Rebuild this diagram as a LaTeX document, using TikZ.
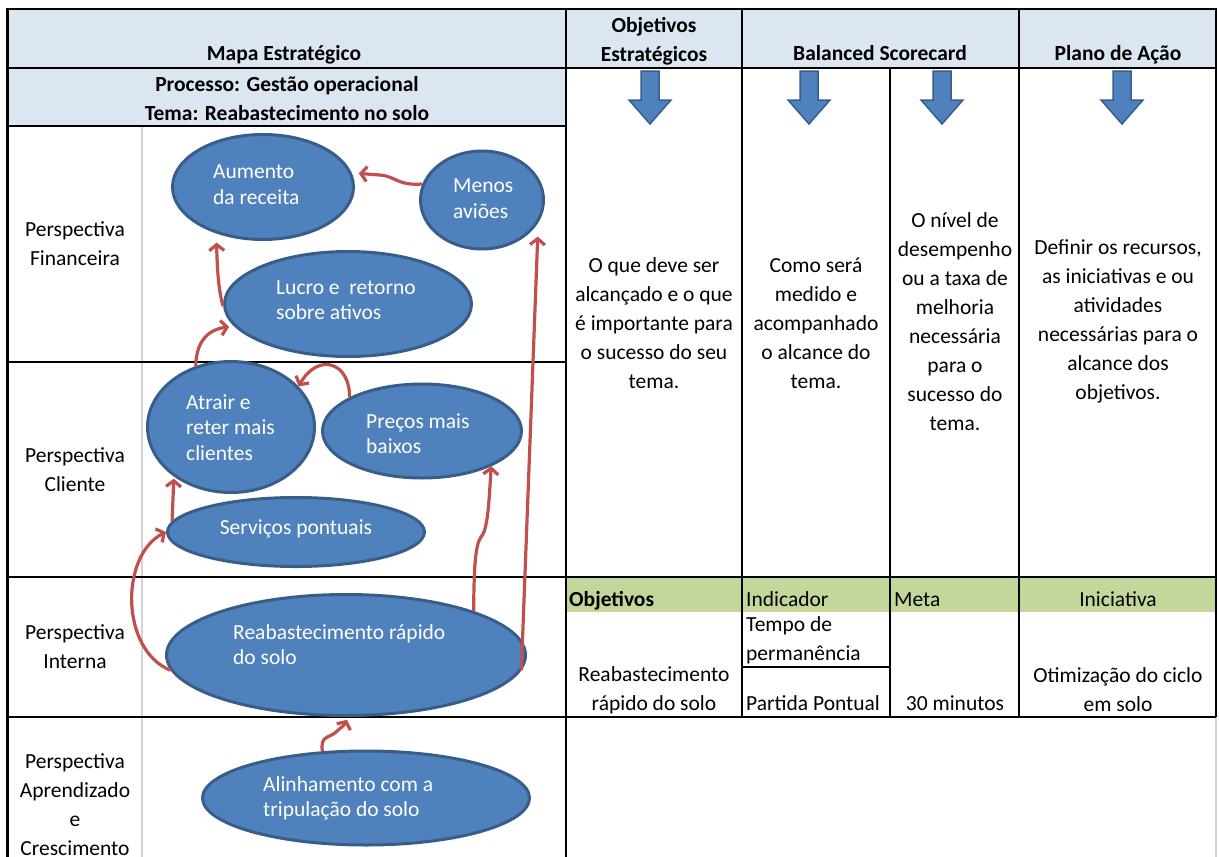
\documentclass[tikz,border=0pt]{standalone}
\usepackage{fontspec}
\setmainfont{Carlito}
\usetikzlibrary{arrows.meta,shapes.geometric}

\definecolor{hdr}{HTML}{DCE6F1}
\definecolor{grn}{HTML}{C4D79B}
\definecolor{ellfill}{HTML}{4F81BD}
\definecolor{elldraw}{HTML}{385D8A}
\definecolor{redar}{HTML}{C0504D}
\definecolor{gridgrey}{HTML}{D4D4D4}

\newcommand\fsz{\fontsize{21.5}{29}\selectfont}
\newcommand\fse{\fontsize{21.5}{25.5}\selectfont}

\begin{document}
\begin{tikzpicture}[x=1pt,y=-1pt,
  ell/.style={ellipse, draw=elldraw, fill=ellfill, line width=3pt, inner sep=0pt},
  etext/.style={text=white, font=\fse, align=left, anchor=west, inner sep=0pt},
  ttext/.style={font=\fsz, align=center, inner sep=0pt},
  ltext/.style={font=\fsz, align=left, anchor=west, inner sep=0pt},
  hd/.style={font=\fsz\bfseries, align=center, inner sep=0pt},
  sl/.style={anchor=base},
  slw/.style={anchor=base west},
  rel/.style={draw=redar, line width=3.2pt, -{Straight Barb[length=6pt,width=15pt]}},
  gridline/.style={line width=2pt},
  border/.style={line width=2.6pt},
  thin/.style={draw=gridgrey, line width=1.2pt},
  blk/.style={fill=ellfill, draw=elldraw, line width=1.5pt, line join=miter},
]
\useasboundingbox (0,0) rectangle (1219,857);

% fills
\fill[hdr] (7.5,9) rectangle (1216,68);
\fill[hdr] (7.5,68) rectangle (566,126);
\fill[grn] (566,577) rectangle (1216,612);

% thin grey lines
\draw[thin] (142,126) -- (142,857);
\draw[thin] (1216,717) -- (1216,857);

% grid lines
\draw[gridline] (7.5,68) -- (1216,68);
\draw[gridline] (7.5,126) -- (566,126);
\draw[gridline] (7.5,362) -- (566,362);
\draw[gridline] (7.5,577) -- (1216,577);
\draw[gridline] (7.5,716.5) -- (1216,716.5);
\draw[gridline] (742,667) -- (890,667);
\draw[gridline] (566,9) -- (566,857);
\draw[gridline] (742,9) -- (742,716.5);
\draw[gridline] (890,68) -- (890,716.5);
\draw[gridline] (1019,9) -- (1019,716.5);
\draw[border] (7.5,857) -- (7.5,9) -- (1216,9) -- (1216,716.5);

% header texts
\node[hd, sl] (hmapa) at (284,60.5) {Mapa Estratégico};
\node[hd] (hobj) at (654,41) {Objetivos\\Estratégicos};
\node[hd, sl] (hbsc) at (880,60.5) {Balanced Scorecard};
\node[hd, sl] (hplano) at (1118,60.5) {Plano de Ação};
\node[hd] (hproc) at (287,98.5) {Processo: Gestão operacional\\Tema: Reabastecimento no solo};

% block arrows
\foreach \c/\n in {650/a1, 809/a2, 942/a3, 1122/a4}{
  \draw[blk] (\c-9,71) -- (\c+9,71) -- (\c+9,100) -- (\c+21,100) -- (\c,124) -- (\c-21,100) -- (\c-9,100) -- cycle;
}

% column texts
\node[ttext] (c1) at (654,323) {O que deve ser\\alcançado e o que\\é importante para\\o sucesso do seu\\tema.};
\node[ttext] (c2) at (816,323) {Como será\\medido e\\acompanhado\\o alcance do\\tema.};
\node[ttext] (c3) at (955,321.5) {O nível de\\desempenho\\ou a taxa de\\melhoria\\necessária\\para o\\sucesso do\\tema.};
\node[ttext] (c4) at (1118,321.5) {Definir os recursos,\\as iniciativas e ou\\atividades\\necessárias para o\\alcance dos\\objetivos.};

% green row
\node[ltext, slw, font=\fsz\bfseries] (gobj) at (569,606.5) {Objetivos};
\node[ltext, slw] (gind) at (746,606.5) {Indicador};
\node[ltext, slw] (gmeta) at (894,606.5) {Meta};
\node[ttext, sl] (gini) at (1118,606.5) {Iniciativa};

% data row
\node[ttext] (dobj) at (654,690) {Reabastecimento\\rápido do solo};
\node[ltext] (dind1) at (746,640) {Tempo de\\permanência};
\node[ltext, slw] (dind2) at (746,710.5) {Partida Pontual};
\node[ttext, sl] (dmeta) at (955,710.5) {30 minutos};
\node[ttext] (dini) at (1118,690) {Otimização do ciclo\\em solo};

% perspective labels
\node[ttext] (pfin) at (75,243.5) {Perspectiva\\Financeira};
\node[ttext] (pcli) at (75,470) {Perspectiva\\Cliente};
\node[ttext] (pint) at (75,647) {Perspectiva\\Interna};
\node[ttext] (papr) at (75,805) {Perspectiva\\Aprendizado\\e\\Crescimento};

% ellipses
\node[ell, minimum width=181, minimum height=105] (aum) at (263,187) {};
\node[ell, minimum width=123, minimum height=98] (menos) at (482,200) {};
\node[ell, minimum width=247, minimum height=105] (lucro) at (348,304) {};
\node[ell, minimum width=167, minimum height=131] (atr) at (231,427) {};
\node[ell, minimum width=199, minimum height=94] (pre) at (422,431) {};
\node[ell, minimum width=257, minimum height=69] (serv) at (296,532) {};
\node[ell, minimum width=359, minimum height=121] (reab) at (346,655) {};
\node[ell, minimum width=327, minimum height=94] (alin) at (366,798) {};

% ellipse texts
\node[etext] (taum) at (213,184.5) {Aumento\\da receita};
\node[etext] (tmenos) at (453,198.5) {Menos\\aviões};
\node[etext] (tlucro) at (276,300) {Lucro e\ \ retorno\\sobre ativos};
\node[etext] (tatr) at (186,427.5) {Atrair e\\reter mais\\clientes};
\node[etext] (tpre) at (366,433.5) {Preços mais\\baixos};
\node[etext, sl] (tserv) at (296,534.5) {Serviços pontuais};
\node[etext] (treab) at (233,644.5) {Reabastecimento rápido\\do solo};
\node[etext] (talin) at (263,798.5) {Alinhamento com a\\tripulação do solo};

% red connectors
\draw[rel, shorten >=7pt] (menos.165) .. controls (398,186) and (395,176) .. (380,175) -- (aum.9);
\draw[rel, shorten >=9pt] (lucro.181) .. controls (218,290) and (217,262) .. (aum.225);
\draw[rel, shorten >=5pt] (atr.120) .. controls (196,345) and (205,330) .. (lucro.191);
\draw[rel] (pre.155) .. controls (350,362) and (318,352) .. (atr.31);
\draw[rel, shorten >=2pt] (serv.175) -- (atr.221);
\draw[rel] (reab.185) .. controls (120,650) and (120,555) .. (serv.180);
\draw[rel] (reab.19) .. controls (474,570) and (475,545) .. (481,537) .. controls (488,530) and (489,500) .. (pre.-27);
\draw[rel, shorten >=14pt] (reab.-5) -- (menos.-22);
\draw[rel, shorten >=3pt] (alin.133) .. controls (320,735) and (330,738) .. (336,732) .. controls (340,728) and (344,726) .. (reab.272);

\end{tikzpicture}
\end{document}
